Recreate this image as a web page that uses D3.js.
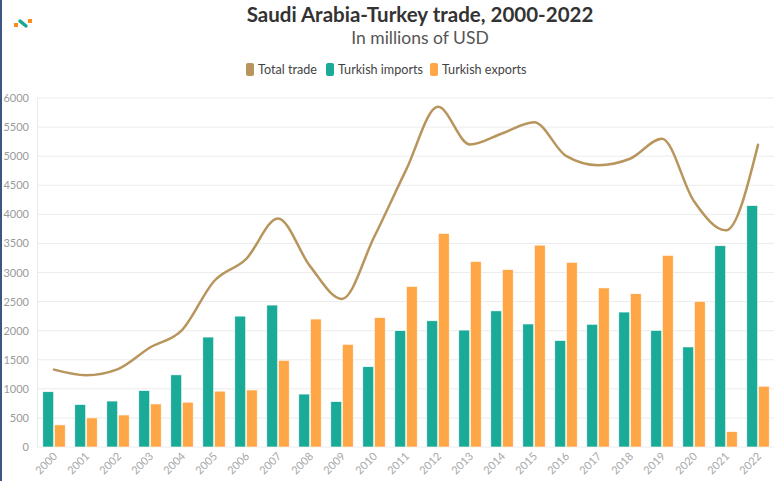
<!DOCTYPE html>
<html>
<head>
<meta charset="utf-8">
<script src="https://cdn.jsdelivr.net/npm/d3@7"></script>
<style>
    body { margin: 0; background: #fff; }
    svg { display: block; font-family: Lato, "Noto Sans", sans-serif; }
</style>
</head>
<body>
<svg id="chart"></svg>
<script>
// values (millions of USD)
const years = ['2000','2001','2002','2003','2004','2005','2006','2007','2008','2009','2010','2011',
    '2012','2013','2014','2015','2016','2017','2018','2019','2020','2021','2022']
const turkishImports = [950, 730, 790, 970, 1240, 1890, 2250, 2440, 910, 780, 1380, 2000,
    2170, 2010, 2340, 2115, 1830, 2110, 2320, 2005, 1720, 3460, 4150]
const turkishExports = [380, 500, 550, 740, 770, 960, 980, 1490, 2200, 1765, 2225, 2760,
    3670, 3190, 3050, 3470, 3175, 2735, 2635, 3295, 2505, 265, 1045]
const totalTrade = [1330, 1235, 1340, 1710, 2010, 2850, 3230, 3930, 3110, 2545, 3605, 4760,
    5850, 5200, 5390, 5585, 5005, 4845, 4955, 5300, 4225, 3725, 5195]
const yTicks = [0, 500, 1000, 1500, 2000, 2500, 3000, 3500, 4000, 4500, 5000, 5500, 6000]
const legendItems = ['Total trade', 'Turkish imports', 'Turkish exports']

const width = 775, height = 481
const colors = { line: '#b8955c', imports: '#1aab98', exports: '#ffa646' }

const svg = d3.select('#chart')
    .attr('width', width)
    .attr('height', height)

// left frame edge
svg.append('rect')
    .attr('x', 0).attr('y', 0)
    .attr('width', 2).attr('height', height)
    .attr('fill', '#3d5682')

// small logo
const logo = svg.append('g').attr('transform', 'translate(14,17)')
logo.append('rect').attr('x', 0).attr('y', 6).attr('width', 4).attr('height', 4).attr('fill', '#ff8c1a')
logo.append('line').attr('x1', 6).attr('y1', 4).attr('x2', 12).attr('y2', 9)
    .attr('stroke', '#17a88f').attr('stroke-width', 3.5).attr('stroke-linecap', 'round')
logo.append('rect').attr('x', 14).attr('y', 2).attr('width', 4).attr('height', 4).attr('fill', '#ff8c1a')

// titles
svg.append('text')
    .attr('x', 420).attr('y', 22)
    .attr('text-anchor', 'middle')
    .attr('font-size', 20.5).attr('font-weight', 'bold')
    .attr('fill', '#333')
    .text('Saudi Arabia-Turkey trade, 2000-2022')

svg.append('text')
    .attr('x', 420).attr('y', 44)
    .attr('text-anchor', 'middle')
    .attr('font-size', 17.5)
    .attr('fill', '#555')
    .text('In millions of USD')

// legend
const legendColors = [colors.line, colors.imports, colors.exports]
const legendX = [246, 326, 430]
const legend = svg.append('g')
legendItems.forEach((name, i) => {
    legend.append('rect')
        .attr('x', legendX[i]).attr('y', 63)
        .attr('width', 8).attr('height', 13).attr('rx', 2)
        .attr('fill', legendColors[i])
    legend.append('text')
        .attr('x', legendX[i] + 12).attr('y', 74)
        .attr('font-size', 12.6).attr('fill', '#444')
        .text(name)
})

// scales
const x = d3.scaleBand()
    .domain(years)
    .range([38, 774])
    .paddingInner(0.3)
    .paddingOuter(0.15)

const xSub = d3.scaleBand()
    .domain(['imports', 'exports'])
    .range([0, x.bandwidth()])
    .paddingInner(0.06)

const y = d3.scaleLinear()
    .domain([0, 6000])
    .range([447, 98])

// grid
svg.append('g')
    .selectAll('line')
    .data(yTicks)
    .join('line')
    .attr('x1', 37).attr('x2', 774)
    .attr('y1', d => y(d)).attr('y2', d => y(d))
    .attr('stroke', '#ececec')

svg.append('line')
    .attr('x1', 37.5).attr('x2', 37.5)
    .attr('y1', y(6000)).attr('y2', y(0))
    .attr('stroke', '#ececec')

// y axis
const yAxis = svg.append('g')
    .attr('transform', 'translate(29,0)')
    .call(d3.axisLeft(y).tickValues(yTicks).tickFormat(d3.format('d')).tickSize(0).tickPadding(0))
yAxis.select('.domain').remove()
yAxis.selectAll('text')
    .attr('font-family', 'Lato, sans-serif')
    .attr('font-size', 11)
    .attr('fill', '#9a9a9a')

// x axis
const xAxis = svg.append('g')
    .attr('transform', `translate(0,${y(0)})`)
    .call(d3.axisBottom(x).tickSize(0).tickPadding(0))
xAxis.select('.domain').remove()
xAxis.selectAll('text')
    .attr('font-family', 'Lato, sans-serif')
    .attr('font-size', 11)
    .attr('fill', '#a8a8a8')
    .attr('text-anchor', 'end')
    .attr('dy', 0)
    .attr('transform', 'translate(4,10) rotate(-45)')

// bars
const rows = years.map((yr, i) => ({ year: yr, imports: turkishImports[i], exports: turkishExports[i] }))
const groups = svg.append('g')
    .selectAll('g')
    .data(rows)
    .join('g')
    .attr('transform', d => `translate(${x(d.year)},0)`)

groups.selectAll('rect')
    .data(d => ['imports', 'exports'].map(k => ({ key: k, value: d[k] })))
    .join('rect')
    .attr('x', d => xSub(d.key))
    .attr('width', xSub.bandwidth())
    .attr('y', d => y(d.value))
    .attr('height', d => y(0) - y(d.value))
    .attr('fill', d => colors[d.key])
    .attr('stroke', '#fff')
    .attr('stroke-width', 0.6)

// total trade spline
const line = d3.line()
    .x((d, i) => x(years[i]) + x.bandwidth() / 2)
    .y(d => y(d))
    .curve(d3.curveMonotoneX)

svg.append('path')
    .datum(totalTrade)
    .attr('d', line)
    .attr('fill', 'none')
    .attr('stroke', colors.line)
    .attr('stroke-width', 2.5)
    .attr('stroke-linecap', 'round')
</script>
</body>
</html>
